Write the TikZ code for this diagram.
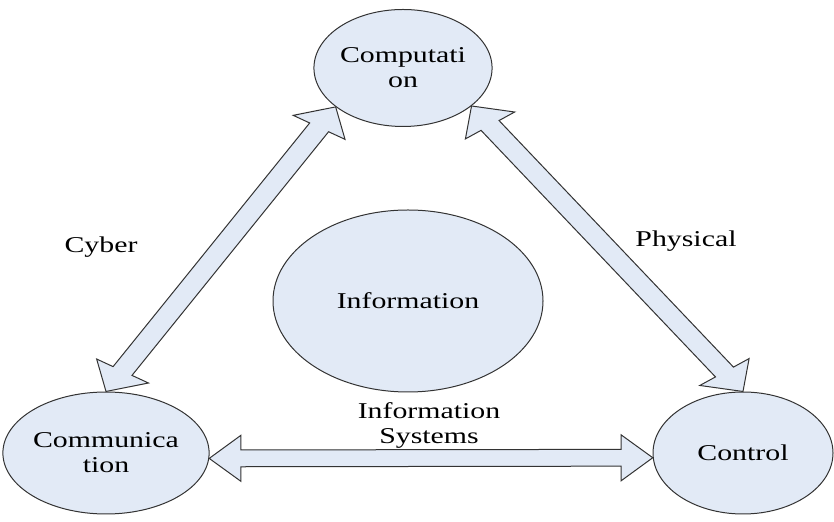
\documentclass[tikz,border=0pt]{standalone}
\usepackage{fontspec}
\setmainfont{Liberation Serif}
\usetikzlibrary{shapes.geometric,calc}

\definecolor{cpsblue}{RGB}{226,234,246}
\newcommand{\txtsx}{1.32}
\newcommand{\wide}[1]{\scalebox{\txtsx}[1]{#1}}
\newcommand{\arrhl}{12pt}
\newcommand{\arrhw}{11.5pt}
\newcommand{\arrsw}{4.2pt}
% hollow double arrow between two anchors, stretched like the text
\newcommand{\fatarrow}[2]{%
	\draw[fatarrow] let \p1=(#1), \p2=(#2),
		\n1={atan2(\y2-\y1,(\x2-\x1)/\txtsx)},
		\n2={veclen((\x2-\x1)/\txtsx,\y2-\y1)} in
		[shift={(\p1)}, xscale=\txtsx, rotate=\n1]
		(0pt,0pt) -- (\arrhl,\arrhw) -- (\arrhl,\arrsw) -- ({\n2*1pt-\arrhl},\arrsw)
		-- ({\n2*1pt-\arrhl},\arrhw) -- ({\n2*1pt},0pt) -- ({\n2*1pt-\arrhl},-\arrhw)
		-- ({\n2*1pt-\arrhl},-\arrsw) -- (\arrhl,-\arrsw) -- (\arrhl,-\arrhw) -- cycle;
}
\tikzset{
	blob/.style={ellipse, draw=black!80, fill=cpsblue, line width=0.5pt, inner sep=0pt, align=center},
	fatarrow/.style={draw=black!80, fill=cpsblue, line width=0.5pt, line join=miter},
	lbl/.style={inner sep=0pt, align=center}
}

\begin{document}
\begin{tikzpicture}[x=0.5pt, y=-0.5pt, font=\fontsize{11.3}{12.5}\selectfont]
	\useasboundingbox (0,0) rectangle (834,522);
	\node[blob, minimum width=83.5pt, minimum height=58.5pt] (comp) at (403,68) {\wide{Computati}\\\wide{on}};
	\node[blob, minimum width=96pt, minimum height=61pt] (comm) at (106,453) {\wide{Communica}\\\wide{tion}};
	\node[blob, minimum width=90pt, minimum height=61pt] (ctrl) at (743,453) {\wide{Control}};
	\node[blob, minimum width=135pt, minimum height=91pt] (info) at (408,301) {\wide{Information}};
	\node[lbl] (cyber) at (101,247) {\wide{Cyber}};
	\node[lbl] (phys) at (686,241) {\wide{Physical}};
	\node[lbl] (infosys) at (429,425) {\wide{Information}\\\wide{Systems}};
	\fatarrow{comp.210.7}{comm.north}
	\fatarrow{comp.331}{ctrl.north}
	\fatarrow{comm.-3}{ctrl.183}
\end{tikzpicture}
\end{document}
